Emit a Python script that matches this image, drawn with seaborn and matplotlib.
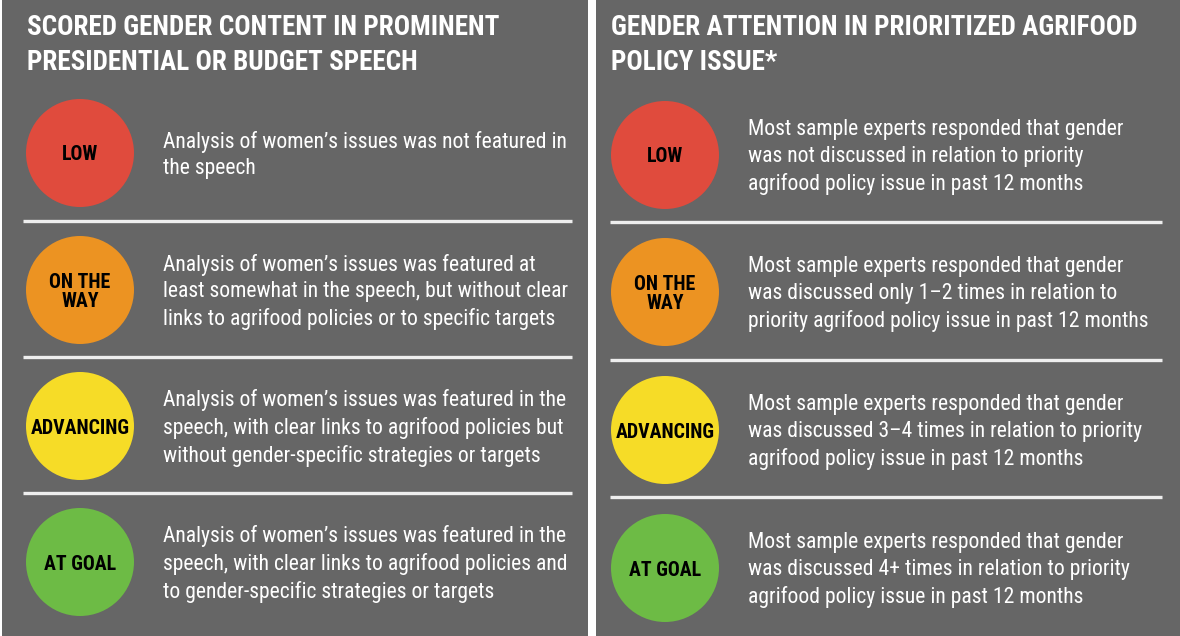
import matplotlib
matplotlib.use("Agg")
import matplotlib.pyplot as plt
import seaborn as sns
import pandas as pd
from matplotlib.patches import Rectangle

sns.set_theme(style="white")
plt.rcParams['font.family'] = ['Roboto Condensed', 'Liberation Sans Narrow', 'Roboto', 'DejaVu Sans']

# ---- data ----
levels = ["LOW", "ON THE\nWAY", "ADVANCING", "AT GOAL"]
level_colors = ["#E04B3D", "#EC9322", "#F6DC27", "#6DBB45"]

left_title = "SCORED GENDER CONTENT IN PROMINENT\nPRESIDENTIAL OR BUDGET SPEECH"
left_texts = [
    "Analysis of women\u2019s issues was not featured in\nthe speech",
    "Analysis of women\u2019s issues was featured at\nleast somewhat in the speech, but without clear\nlinks to agrifood policies or to specific targets",
    "Analysis of women\u2019s issues was featured in the\nspeech, with clear links to agrifood policies but\nwithout gender-specific strategies or targets",
    "Analysis of women\u2019s issues was featured in the\nspeech, with clear links to agrifood policies and\nto gender-specific strategies or targets",
]

right_title = "GENDER ATTENTION IN PRIORITIZED AGRIFOOD\nPOLICY ISSUE*"
right_texts = [
    "Most sample experts responded that gender\nwas not discussed in relation to priority\nagrifood policy issue in past 12 months",
    "Most sample experts responded that gender\nwas discussed only 1\u20132 times in relation to\npriority agrifood policy issue in past 12 months",
    "Most sample experts responded that gender\nwas discussed 3\u20134 times in relation to priority\nagrifood policy issue in past 12 months",
    "Most sample experts responded that gender\nwas discussed 4+ times in relation to priority\nagrifood policy issue in past 12 months",
]

# ---- layout (pixels) ----
W, H = 1180, 636
BG = "#666666"
TEXT_DY = 2
panels = [
    dict(x0=2, x1=588, title=left_title, texts=left_texts, cx=80, tx=163,
         rows=[153, 290, 426, 562], seps=[221, 357, 493], lx=(23, 572), title_x=27),
    dict(x0=596, x1=1180, title=right_title, texts=right_texts, cx=665, tx=748,
         rows=[155, 292, 430, 568], seps=[222, 360, 497], lx=(610, 1162), title_x=611),
]

fig = plt.figure(figsize=(W / 100, H / 100), dpi=100)
fig.patch.set_facecolor("white")
ax = fig.add_axes([0, 0, 1, 1])
ax.set_xlim(0, W)
ax.set_ylim(H, 0)
ax.axis("off")

diam_pt = 108 * 72 / 100
for p in panels:
    ax.add_patch(Rectangle((p["x0"], 0), p["x1"] - p["x0"], H, facecolor=BG, edgecolor="none", zorder=0))
    ax.text(p["title_x"], 14, p["title"], color="white", fontsize=19.5, fontweight="bold",
            va="top", ha="left", linespacing=1.36, zorder=3)
    for y in p["seps"]:
        ax.plot([p["lx"][0], p["lx"][1]], [y, y], color="#EEEEEE", lw=2.4, zorder=2, solid_capstyle="butt")
    df = pd.DataFrame({"level": levels, "x": [p["cx"]] * 4, "y": p["rows"]})
    sns.scatterplot(data=df, x="x", y="y", hue="level", palette=dict(zip(levels, level_colors)),
                    s=diam_pt ** 2, edgecolor="none", legend=False, ax=ax, zorder=3)
    for lv, y, t in zip(levels, p["rows"], p["texts"]):
        ax.text(p["cx"], y + TEXT_DY, lv, color="black", fontsize=14.3, fontweight="bold", ha="center",
                va="center", linespacing=1.05, zorder=4)
        ax.text(p["tx"], y + TEXT_DY, t, color="white", fontsize=15.6, ha="left", va="center",
                linespacing=1.36, zorder=4)

ax.set_xlim(0, W)
ax.set_ylim(H, 0)
fig.savefig("out.png", dpi=100, facecolor="white")
